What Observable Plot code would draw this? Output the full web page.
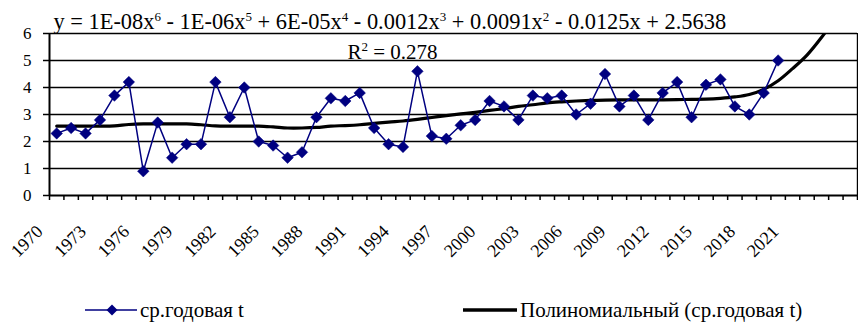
<!DOCTYPE html>
<html><head><meta charset="utf-8">
<script src="https://cdn.jsdelivr.net/npm/d3@7"></script>
<script src="https://cdn.jsdelivr.net/npm/@observablehq/plot@0.6"></script>
<style>
body{margin:0;background:#fff;font-family:"Liberation Serif","Times New Roman",serif;}
#wrap{position:relative;width:858px;height:324px;overflow:hidden;}
#wrap svg.plot{position:absolute;left:0;top:0;}
.item{position:absolute;top:298px;height:24px;display:flex;align-items:center;font-size:21px;line-height:24px;color:#000;white-space:nowrap;}
.item svg{display:block;margin-right:3px;}
</style></head><body><div id="wrap"></div>
<script>
// ---- data ----
const years = [1970,1971,1972,1973,1974,1975,1976,1977,1978,1979,1980,1981,1982,1983,1984,1985,1986,1987,1988,1989,1990,1991,1992,1993,1994,1995,1996,1997,1998,1999,2000,2001,2002,2003,2004,2005,2006,2007,2008,2009,2010,2011,2012,2013,2014,2015,2016,2017,2018,2019,2020];
const temps = [2.3,2.5,2.3,2.8,3.7,4.2,0.9,2.7,1.4,1.9,1.9,4.2,2.9,4.0,2.0,1.85,1.4,1.6,2.9,3.6,3.5,3.8,2.5,1.9,1.8,4.6,2.2,2.1,2.6,2.8,3.5,3.3,2.8,3.7,3.6,3.7,3.0,3.4,4.5,3.3,3.7,2.8,3.8,4.2,2.9,4.1,4.3,3.3,3.0,3.8,5.0];
const trendYears = [1970,1971,1972,1973,1974,1975,1976,1977,1978,1979,1980,1981,1982,1983,1984,1985,1986,1987,1988,1989,1990,1991,1992,1993,1994,1995,1996,1997,1998,1999,2000,2001,2002,2003,2004,2005,2006,2007,2008,2009,2010,2011,2012,2013,2014,2015,2016,2017,2018,2019,2020,2021,2022,2023,2024];
const trendValues = [2.57,2.57,2.57,2.57,2.58,2.63,2.65,2.65,2.65,2.65,2.62,2.58,2.57,2.57,2.57,2.54,2.5,2.5,2.52,2.57,2.59,2.62,2.67,2.72,2.76,2.82,2.89,2.96,3.02,3.08,3.15,3.22,3.3,3.36,3.43,3.47,3.5,3.52,3.53,3.54,3.54,3.54,3.54,3.55,3.56,3.57,3.6,3.65,3.74,3.93,4.25,4.7,5.2,5.85,6.6];
const tickYears = [1970,1973,1976,1979,1982,1985,1988,1991,1994,1997,2000,2003,2006,2009,2012,2015,2018,2021];
const yTicks = [0,1,2,3,4,5,6];
const firstCategory = 1970, lastCategory = 2025;
const equation = "y = 1E-08x^6 - 1E-06x^5 + 6E-05x^4 - 0.0012x^3 + 0.0091x^2 - 0.0125x + 2.5638";
const rSquared = "R^2 = 0.278";
const seriesName = "ср.годовая t";
const trendName = "Полиномиальный (ср.годовая t)";

const series = years.map((y,i)=>({year:y, t:temps[i]}));
const trend = trendYears.map((y,i)=>({year:y, v:trendValues[i]}));
const boundaries = d3.range(firstCategory-0.5, lastCategory+1, 1);
const navy = "#000080";
const font = '"Liberation Serif","Times New Roman",serif';

const chart = Plot.plot({
  width:858, height:270,
  marginTop:33, marginBottom:75, marginLeft:49, marginRight:1,
  style:{fontFamily:font, fontSize:"17px", color:"#000", background:"transparent", overflow:"visible"},
  x:{domain:[firstCategory-0.5, lastCategory+0.5], axis:null},
  y:{domain:[0,6], axis:null},
  marks:[
    Plot.gridY(yTicks.filter(d=>d>0), {stroke:"#000", strokeOpacity:1, strokeWidth:1.4}),
    Plot.ruleX([lastCategory+0.5], {stroke:"#000", strokeWidth:1.4}),
    Plot.axisY(yTicks, {tickSize:6, tickPadding:12, stroke:"#000", strokeWidth:1.5, fontSize:17, label:null}),
    Plot.axisX(boundaries, {tickSize:5, tickFormat:()=>"", stroke:"#000", strokeWidth:1.5, label:null}),
    Plot.ruleX([firstCategory-0.5], {stroke:"#000", strokeWidth:2}),
    Plot.ruleY([0], {stroke:"#000", strokeWidth:2}),
    Plot.line(trend, {x:"year", y:"v", stroke:"#000", strokeWidth:3.2, curve:"catmull-rom", clip:true}),
    Plot.line(series, {x:"year", y:"t", stroke:navy, strokeWidth:1.5}),
    Plot.dot(series, {x:"year", y:"t", symbol:"diamond2", r:5.2, fill:navy, stroke:navy, strokeWidth:0.5}),
    Plot.text(tickYears, {x:d=>d, text:d=>d.toString(), frameAnchor:"bottom", rotate:-45, textAnchor:"end", lineAnchor:"middle", dx:-17, dy:33, fontSize:18}),
    Plot.text([equation], {frameAnchor:"top-left", textAnchor:"start", lineAnchor:"bottom", dx:4, dy:-5, fontSize:22.4, clip:false}),
    Plot.text([rSquared], {frameAnchor:"top-left", textAnchor:"start", lineAnchor:"bottom", dx:298, dy:25, fontSize:21})
  ]
});

// superscripts: turn "^n" into raised tspans
d3.select(chart).selectAll("text").each(function(){
  const t = this.textContent;
  if (!t.includes("^")) return;
  const el = d3.select(this);
  el.text("");
  const parts = t.split(/\^(\d)/);
  parts.forEach((p,i)=>{
    if (i%2===1) el.append("tspan").attr("font-size","13px").attr("dy","-8").text(p);
    else if (p.length) el.append("tspan").attr("dy", i>0 ? "8" : null).text(p);
  });
});

const wrap = document.getElementById("wrap");
wrap.appendChild(chart);

function legendItem(left, swatch, label){
  const d = document.createElement("div");
  d.className = "item";
  d.style.left = left + "px";
  d.appendChild(swatch);
  const s = document.createElement("span");
  s.textContent = label;
  d.appendChild(s);
  wrap.appendChild(d);
}
const s1 = d3.create("svg").attr("width",52).attr("height",16);
s1.append("line").attr("x1",0).attr("x2",52).attr("y1",8).attr("y2",8).attr("stroke",navy).attr("stroke-width",1.5);
s1.append("path").attr("d", d3.symbol(d3.symbolDiamond2, 78)()).attr("transform","translate(27,8)").attr("fill",navy);
legendItem(85, s1.node(), seriesName);
const s2 = d3.create("svg").attr("width",54).attr("height",16);
s2.append("line").attr("x1",0).attr("x2",54).attr("y1",8).attr("y2",8).attr("stroke","#000").attr("stroke-width",3.5);
legendItem(463, s2.node(), trendName);
</script>
</body></html>
